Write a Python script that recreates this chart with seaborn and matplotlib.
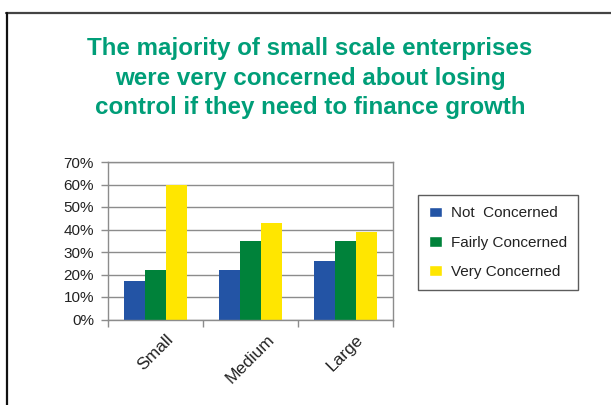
import matplotlib
matplotlib.use("Agg")
import matplotlib.pyplot as plt
from matplotlib.lines import Line2D
from matplotlib.ticker import PercentFormatter, FixedLocator
import seaborn as sns
import pandas as pd

# Share of enterprises by size and level of concern (%)
sizes = ["Small", "Medium", "Large"]
concern_levels = ["Not  Concerned", "Fairly Concerned", "Very Concerned"]
not_concerned = [17, 22, 26]
fairly_concerned = [22, 35, 35]
very_concerned = [60, 43, 39]
y_ticks = [0, 10, 20, 30, 40, 50, 60, 70]

title = ("The majority of small scale enterprises\n"
         "were very concerned about losing\n"
         "control if they need to finance growth")

colors = ["#2354A5", "#00823A", "#FFE600"]

df = pd.DataFrame({
    "size": sizes * 3,
    "level": [concern_levels[0]] * 3 + [concern_levels[1]] * 3 + [concern_levels[2]] * 3,
    "value": not_concerned + fairly_concerned + very_concerned,
})

sns.set_theme(style="white")
plt.rcParams["font.family"] = ["Liberation Sans", "DejaVu Sans"]

W, H = 611, 405
fig = plt.figure(figsize=(W / 100, H / 100), dpi=100)
ax = fig.add_axes([108 / W, 1 - 319.5 / H, (393 - 108) / W, (319.5 - 162) / H])

sns.barplot(data=df, x="size", y="value", hue="level", order=sizes,
            hue_order=concern_levels, palette=colors, width=0.66,
            saturation=1, ax=ax, legend=True)

for p in ax.patches:
    p.set_edgecolor("none")

ax.set_xlim(-0.5, 2.5)
ax.set_ylim(0, 70)
ax.set_yticks(y_ticks)
ax.yaxis.set_major_formatter(PercentFormatter(decimals=0))
ax.set_xlabel("")
ax.set_ylabel("")
ax.set_axisbelow(True)
ax.yaxis.grid(True, color="#8C8C8C", linewidth=1.0)

for s in ax.spines.values():
    s.set_visible(True)
    s.set_color("#8C8C8C")
    s.set_linewidth(1.0)

ax.tick_params(axis="y", length=5, width=1, color="#8C8C8C", pad=5,
               labelsize=11, labelcolor="#222222", left=True)
ax.tick_params(axis="x", which="major", length=0, pad=9,
               labelsize=12.5, labelcolor="#222222")
ax.xaxis.set_minor_locator(FixedLocator([-0.5, 0.5, 1.5, 2.5]))
ax.tick_params(axis="x", which="minor", length=5, width=1, color="#8C8C8C",
               bottom=True)
for lbl in ax.get_xticklabels():
    lbl.set_rotation(45)
    lbl.set_ha("center")
    lbl.set_va("top")

leg = ax.get_legend()
handles = leg.legend_handles
labels = [t.get_text() for t in leg.get_texts()]
leg.remove()
fig.legend(handles, labels, loc="upper left",
           bbox_to_anchor=(418 / W, 1 - 195 / H), frameon=True, fancybox=False,
           edgecolor="#333333", fontsize=11, handlelength=0.8, handleheight=0.7,
           handletextpad=0.6, labelspacing=1.0, borderpad=0.75,
           borderaxespad=0, labelcolor="#222222")
fig.legends[0].get_frame().set_linewidth(1.0)

fig.text(310 / W, 1 - 78 / H, title, ha="center", va="center",
         fontsize=17.4, fontweight="bold", color="#009E78", linespacing=1.38)

# outer frame: top and left edges
fig.add_artist(Line2D([6 / W, 1], [1 - 13 / H, 1 - 13 / H],
                      transform=fig.transFigure, color="#444444", linewidth=1.6))
fig.add_artist(Line2D([7 / W, 7 / W], [1 - 13 / H, 0],
                      transform=fig.transFigure, color="#111111", linewidth=1.6))

fig.savefig("out.png", dpi=100, facecolor="white")
